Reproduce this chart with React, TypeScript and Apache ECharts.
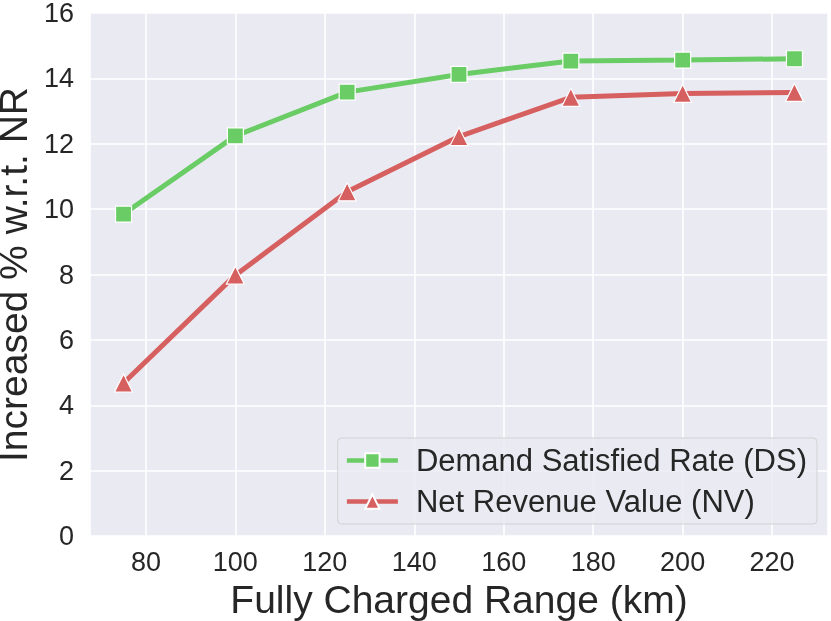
import React, { useEffect, useRef } from "react";
import * as echarts from "echarts";

const ranges = [75, 100, 125, 150, 175, 200, 225];
const dsValues = [9.85, 12.24, 13.58, 14.12, 14.53, 14.56, 14.6];
const nvValues = [4.68, 7.98, 10.53, 12.22, 13.42, 13.54, 13.57];
const xTicks = [80, 100, 120, 140, 160, 180, 200, 220];
const seriesNames = ["Demand Satisfied Rate (DS)", "Net Revenue Value (NV)"];

const FONT = "'Liberation Sans', Arial, sans-serif";
const TEXT = "#262626";

export default function App() {
  const ref = useRef<HTMLDivElement>(null);
  useEffect(() => {
    if (!ref.current) return;
    const chart = echarts.init(ref.current, null, { renderer: "svg" });
    const pair = (vals: number[]) => ranges.map((x, i) => [x, vals[i]]);
    chart.setOption({
      animation: false,
      textStyle: { fontFamily: FONT, color: TEXT },
      grid: {
        left: 90,
        top: 13,
        right: 3,
        bottom: 85,
        show: true,
        backgroundColor: "#EAEAF2",
        borderWidth: 0,
        containLabel: false,
        outerBoundsMode: "none",
      },
      xAxis: {
        type: "value",
        min: 67.5,
        max: 232.5,
        splitNumber: 8,
        name: "Fully Charged Range (km)",
        nameLocation: "middle",
        nameGap: 42,
        nameTextStyle: { fontSize: 39, color: TEXT, fontFamily: FONT },
        axisLine: { show: false },
        axisTick: { show: false },
        axisLabel: {
          fontSize: 27,
          color: TEXT,
          fontFamily: FONT,
          margin: 12,
          showMinLabel: false,
          showMaxLabel: false,
          formatter: (v: number) => (xTicks.includes(v) ? String(v) : ""),
        },
        splitLine: { show: true, lineStyle: { color: "#ffffff", width: 1.6 } },
      },
      yAxis: {
        type: "value",
        min: 0,
        max: 16,
        interval: 2,
        name: "Increased % w.r.t. NR",
        nameLocation: "middle",
        nameGap: 47,
        nameTextStyle: { fontSize: 39, lineHeight: 38, color: TEXT, fontFamily: FONT },
        axisLine: { show: false },
        axisTick: { show: false },
        axisLabel: { fontSize: 27, lineHeight: 22, color: TEXT, fontFamily: FONT, margin: 16 },
        splitLine: { show: true, lineStyle: { color: "#ffffff", width: 1.6 } },
      },
      legend: {
        orient: "vertical",
        right: 14,
        bottom: 97,
        itemWidth: 51,
        itemHeight: 18,
        itemGap: 10,
        padding: [7, 10, 7, 7],
        backgroundColor: "rgba(234,234,242,0.8)",
        borderColor: "rgba(204,204,204,0.8)",
        borderWidth: 1,
        borderRadius: 4,
        lineStyle: { width: 4.5 },
        textStyle: { fontSize: 31, color: TEXT, fontFamily: FONT, padding: [0, 0, 0, 13] },
        data: seriesNames,
      },
      series: [
        {
          name: seriesNames[0],
          type: "line",
          data: pair(dsValues),
          symbol: "rect",
          symbolSize: 16,
          color: "#6ACC65",
          lineStyle: { width: 5, color: "#6ACC65" },
          itemStyle: { color: "#6ACC65", borderColor: "#ffffff", borderWidth: 1.2 },
          z: 3,
        },
        {
          name: seriesNames[1],
          type: "line",
          data: pair(nvValues),
          symbol: "triangle",
          symbolSize: 18,
          color: "#D65F5F",
          lineStyle: { width: 5, color: "#D65F5F" },
          itemStyle: { color: "#D65F5F", borderColor: "#ffffff", borderWidth: 1.2 },
          z: 2,
        },
      ],
    });
    return () => chart.dispose();
  }, []);
  return (
    <div
      ref={ref}
      style={{ position: "fixed", left: 0, top: 0, width: 831, height: 621 }}
    />
  );
}
